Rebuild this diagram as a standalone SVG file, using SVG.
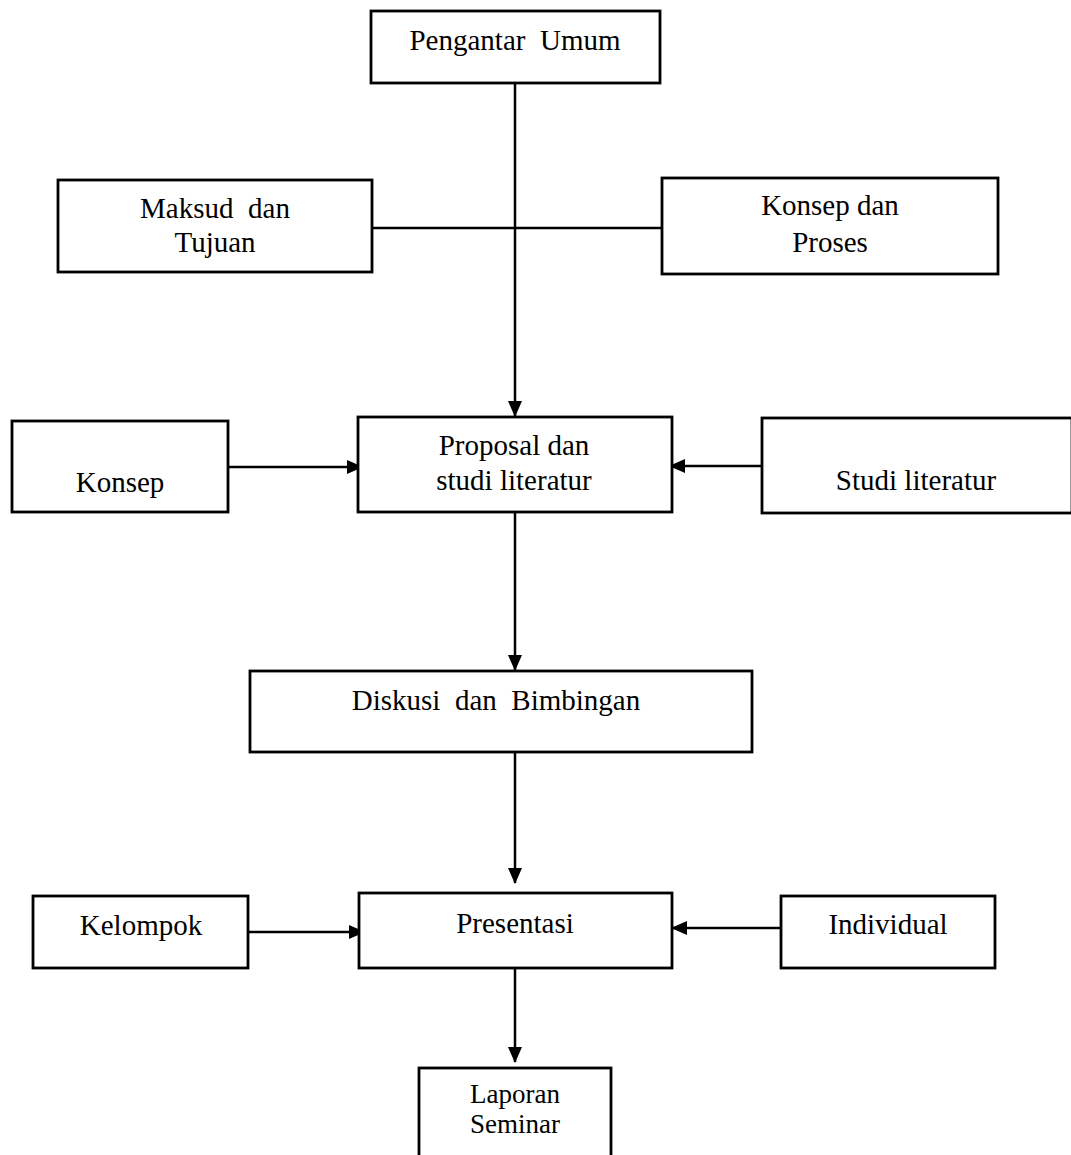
<svg xmlns="http://www.w3.org/2000/svg" width="1071" height="1155" viewBox="0 0 1071 1155">
<style>
.box{fill:#fff;stroke:#000;stroke-width:2.8}
.t{font-family:"Liberation Serif","Times New Roman",serif;font-size:29px;fill:#000;text-anchor:middle;white-space:pre}
.ln{stroke:#000;stroke-width:2.5;fill:none}
</style>
<defs>
<marker id="ah" markerWidth="16" markerHeight="14" refX="15" refY="7" orient="auto" markerUnits="userSpaceOnUse">
<path d="M0,0 L16,7 L0,14 Z" fill="#000"/>
</marker>
</defs>
<g id="connectors">
<line class="ln" x1="515" y1="83" x2="515" y2="416" marker-end="url(#ah)"/>
<line class="ln" x1="372" y1="228" x2="662" y2="228"/>
<line class="ln" x1="228" y1="467" x2="362" y2="467" marker-end="url(#ah)"/>
<line class="ln" x1="762" y1="466" x2="670" y2="466" marker-end="url(#ah)"/>
<line class="ln" x1="515" y1="512" x2="515" y2="670" marker-end="url(#ah)"/>
<line class="ln" x1="515" y1="752" x2="515" y2="883" marker-end="url(#ah)"/>
<line class="ln" x1="248" y1="932" x2="364" y2="932" marker-end="url(#ah)"/>
<line class="ln" x1="781" y1="928" x2="672" y2="928" marker-end="url(#ah)"/>
<line class="ln" x1="515" y1="968" x2="515" y2="1062" marker-end="url(#ah)"/>
</g>
<g id="pengantar">
<rect class="box" x="371" y="11" width="289" height="72"/>
<text class="t" x="515" y="50">Pengantar  Umum</text>
</g>
<g id="maksud">
<rect class="box" x="58" y="180" width="314" height="92"/>
<text class="t" x="215" y="218">Maksud  dan</text>
<text class="t" x="215" y="252">Tujuan</text>
</g>
<g id="konsepproses">
<rect class="box" x="662" y="178" width="336" height="96"/>
<text class="t" x="830" y="215">Konsep dan</text>
<text class="t" x="830" y="252">Proses</text>
</g>
<g id="konsep">
<rect class="box" x="12" y="421" width="216" height="91"/>
<text class="t" x="120" y="492">Konsep</text>
</g>
<g id="proposal">
<rect class="box" x="358" y="417" width="314" height="95"/>
<text class="t" x="514" y="455">Proposal dan</text>
<text class="t" x="514" y="490">studi literatur</text>
</g>
<g id="studi">
<rect class="box" x="762" y="418" width="310" height="95"/>
<text class="t" x="916" y="490">Studi literatur</text>
</g>
<g id="diskusi">
<rect class="box" x="250" y="671" width="502" height="81"/>
<text class="t" x="496" y="710">Diskusi  dan  Bimbingan</text>
</g>
<g id="kelompok">
<rect class="box" x="33" y="896" width="215" height="72"/>
<text class="t" x="141" y="935">Kelompok</text>
</g>
<g id="presentasi">
<rect class="box" x="359" y="893" width="313" height="75"/>
<text class="t" x="515" y="933">Presentasi</text>
</g>
<g id="individual">
<rect class="box" x="781" y="896" width="214" height="72"/>
<text class="t" x="888" y="934">Individual</text>
</g>
<g id="laporan">
<rect class="box" x="419" y="1068" width="192" height="100"/>
<text class="t" x="515" y="1103" style="font-size:27px">Laporan</text>
<text class="t" x="515" y="1133" style="font-size:27px">Seminar</text>
</g>
</svg>
